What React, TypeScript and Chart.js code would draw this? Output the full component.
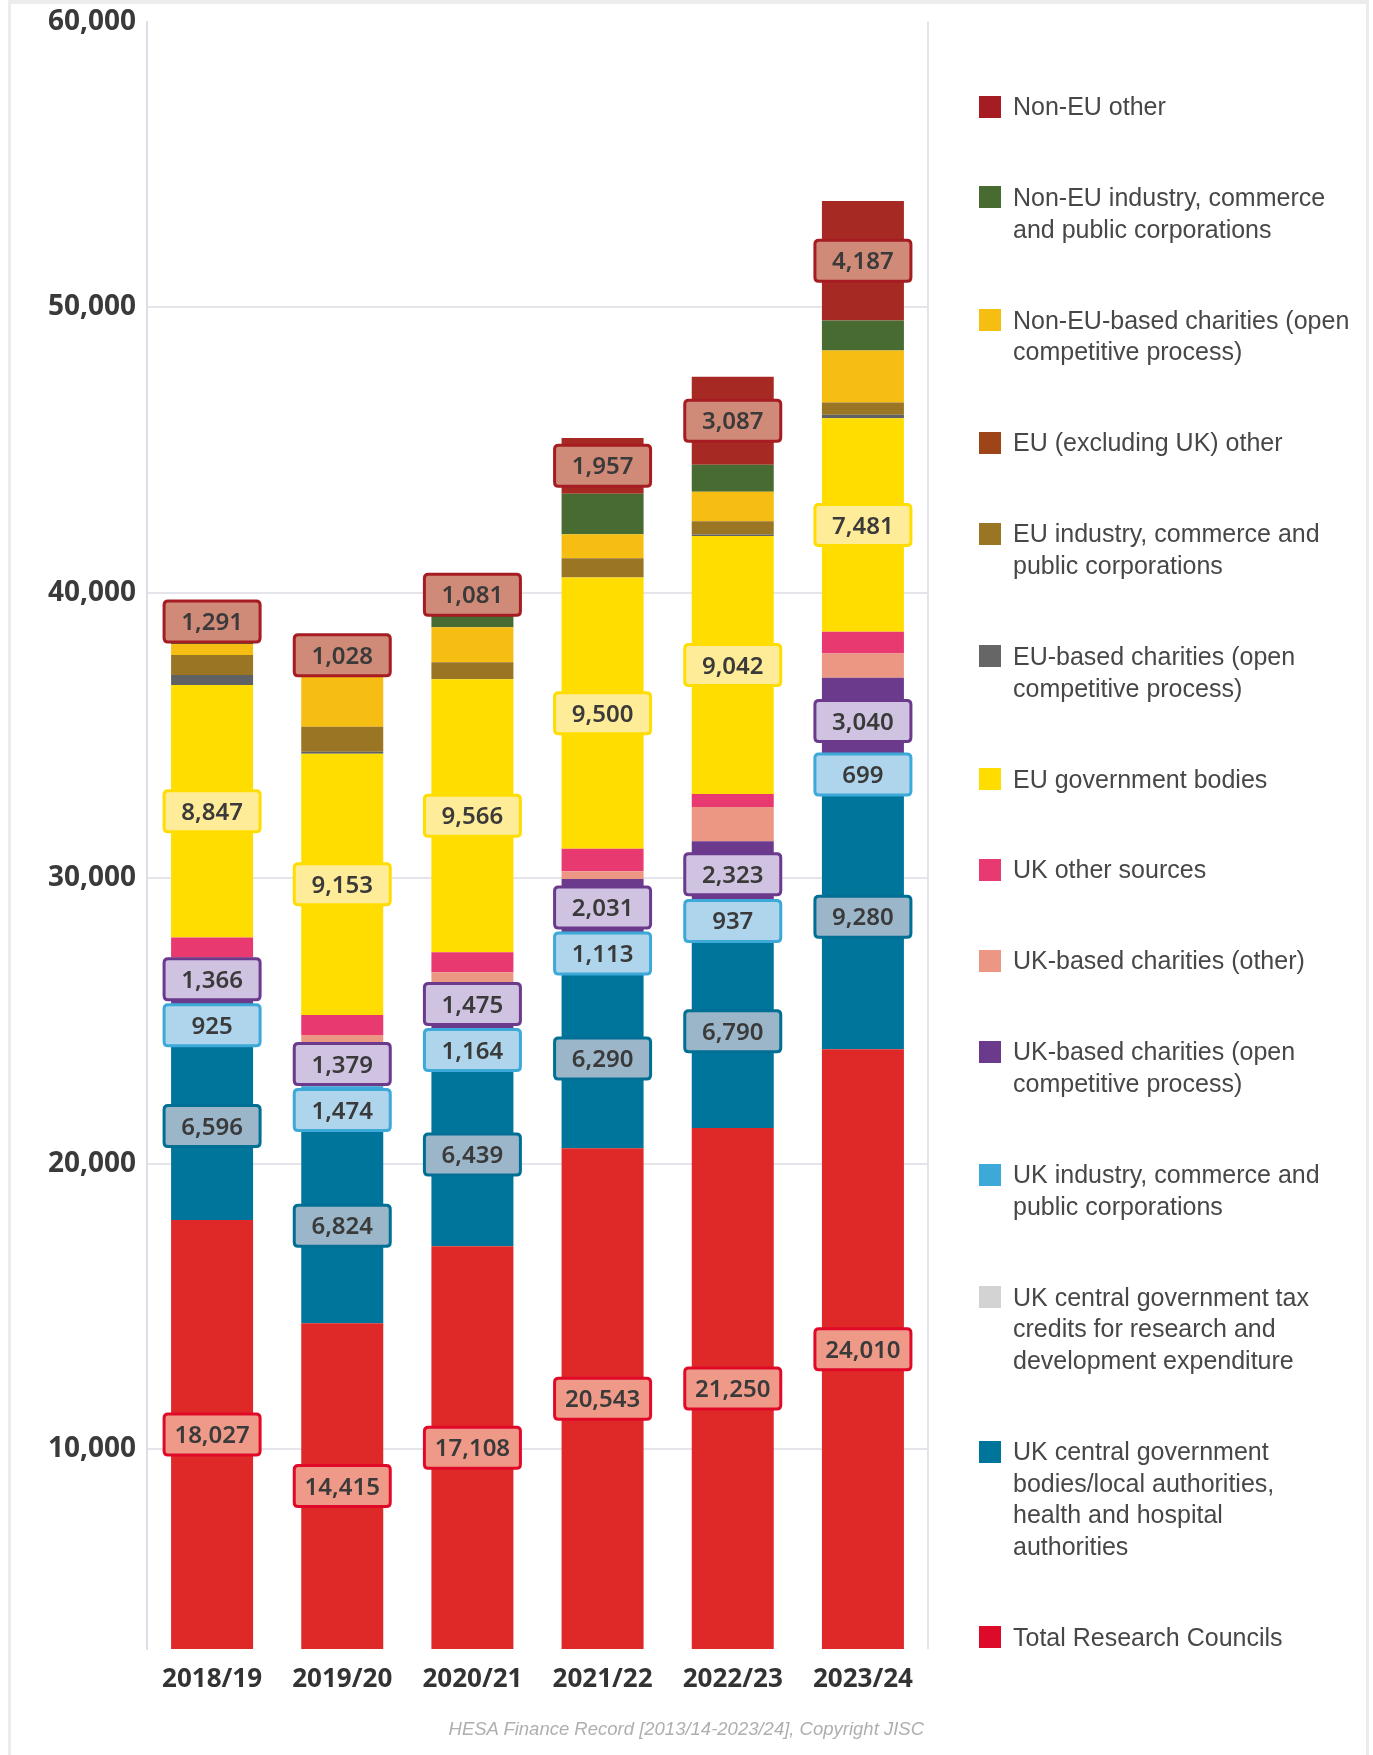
import React, { useEffect, useRef } from "react";
import { Chart, registerables } from "chart.js";

Chart.register(...registerables);

// ---------- data ----------
const categories = ["2018/19", "2019/20", "2020/21", "2021/22", "2022/23", "2023/24"];
const yTickValues = [10000, 20000, 30000, 40000, 50000, 60000];

// stack order: bottom -> top
const totalResearchCouncils = [18027, 14415, 17108, 20543, 21250, 24010];
const ukCentralGovBodies = [6596, 6824, 6439, 6290, 6790, 9280];
const ukTaxCredits = [0, 0, 0, 0, 0, 0];
const ukIndustry = [925, 1474, 1164, 1113, 937, 699];
const ukCharitiesOpen = [1366, 1379, 1475, 2031, 2323, 3040];
const ukCharitiesOther = [330, 420, 520, 270, 1200, 850];
const ukOtherSources = [680, 700, 700, 790, 450, 760];
const euGovernmentBodies = [8847, 9153, 9566, 9500, 9042, 7481];
const euCharities = [350, 70, 0, 0, 50, 120];
const euIndustry = [700, 875, 595, 680, 465, 430];
const euOther = [0, 0, 0, 0, 0, 0];
const nonEuCharities = [385, 1750, 1225, 835, 1035, 1825];
const nonEuIndustry = [150, 245, 605, 1420, 945, 1050];
const nonEuOther = [1291, 1028, 1081, 1957, 3087, 4187];

const seriesNames = [
  "Total Research Councils",
  "UK central government\nbodies/local authorities,\nhealth and hospital\nauthorities",
  "UK central government tax\ncredits for research and\ndevelopment expenditure",
  "UK industry, commerce and\npublic corporations",
  "UK-based charities (open\ncompetitive process)",
  "UK-based charities (other)",
  "UK other sources",
  "EU government bodies",
  "EU-based charities (open\ncompetitive process)",
  "EU industry, commerce and\npublic corporations",
  "EU (excluding UK) other",
  "Non-EU-based charities (open\ncompetitive process)",
  "Non-EU industry, commerce\nand public corporations",
  "Non-EU other",
];
const seriesValues = [
  totalResearchCouncils,
  ukCentralGovBodies,
  ukTaxCredits,
  ukIndustry,
  ukCharitiesOpen,
  ukCharitiesOther,
  ukOtherSources,
  euGovernmentBodies,
  euCharities,
  euIndustry,
  euOther,
  nonEuCharities,
  nonEuIndustry,
  nonEuOther,
];

// ---------- styles ----------
const seriesColors = [
  "#DF2929",
  "#00759C",
  "#D3D3D3",
  "#3DA9D8",
  "#6B3A8D",
  "#EC9684",
  "#E83A70",
  "#FFDD00",
  "#5F6163",
  "#9A7524",
  "#9E4419",
  "#F6BD13",
  "#486B32",
  "#A62A23",
];
const legendColors = [
  "#DE0A2A",
  "#00759C",
  "#D3D3D3",
  "#3DA9D8",
  "#6B3A8D",
  "#EC9684",
  "#E83A70",
  "#FFDD00",
  "#666666",
  "#9A7524",
  "#9E4419",
  "#F6BD13",
  "#486B32",
  "#A51C22",
];
// value-label box styles (only some series are labelled)
const labelStyles: ({ fill: string; border: string } | null)[] = [
  { fill: "#EF9A88", border: "#E00A28" },
  { fill: "#9BB5C9", border: "#006F94" },
  null,
  { fill: "#AFD5ED", border: "#3DA9D8" },
  { fill: "#D0C3E1", border: "#6B3A8D" },
  null,
  null,
  { fill: "#FFEC98", border: "#FFDD00" },
  null,
  null,
  null,
  null,
  null,
  { fill: "#D08A78", border: "#A51C22" },
];

const TICK_FONT = "'Noto Sans', 'DejaVu Sans', sans-serif";
const TEXT_FONT = "'Liberation Sans', Arial, sans-serif";

const fmt = (v: number) => Math.round(v).toLocaleString("en-US");

function roundRect(ctx: CanvasRenderingContext2D, x: number, y: number, w: number, h: number, r: number) {
  ctx.beginPath();
  ctx.moveTo(x + r, y);
  ctx.lineTo(x + w - r, y);
  ctx.quadraticCurveTo(x + w, y, x + w, y + r);
  ctx.lineTo(x + w, y + h - r);
  ctx.quadraticCurveTo(x + w, y + h, x + w - r, y + h);
  ctx.lineTo(x + r, y + h);
  ctx.quadraticCurveTo(x, y + h, x, y + h - r);
  ctx.lineTo(x, y + r);
  ctx.quadraticCurveTo(x, y, x + r, y);
  ctx.closePath();
}

const framePlugin = {
  id: "frameLines",
  beforeDatasetsDraw(chart: any) {
    const { ctx, chartArea } = chart;
    ctx.save();
    ctx.strokeStyle = "#e2e2e8";
    ctx.lineWidth = 2;
    ctx.beginPath();
    ctx.moveTo(chartArea.right, chartArea.top);
    ctx.lineTo(chartArea.right, chartArea.bottom);
    ctx.stroke();
    ctx.restore();
  },
};

const segLabelPlugin = {
  id: "segLabels",
  afterDatasetsDraw(chart: any) {
    const { ctx, chartArea } = chart;
    const boxW = 99;
    const boxH = 44;
    const minSep = 46;
    categories.forEach((_, i) => {
      const items: { x: number; y: number; v: number; st: { fill: string; border: string } }[] = [];
      chart.data.datasets.forEach((ds: any, di: number) => {
        const st = labelStyles[di];
        if (!st) return;
        const el: any = chart.getDatasetMeta(di).data[i];
        const v = ds.data[i] as number;
        if (!el || !v) return;
        const top = Math.max(Math.min(el.y, el.base), chartArea.top);
        const bot = Math.min(Math.max(el.y, el.base), chartArea.bottom);
        items.push({ x: el.x, y: (top + bot) / 2, v, st });
      });
      items.sort((a, b) => a.y - b.y);
      for (let iter = 0; iter < 30; iter++) {
        let moved = false;
        for (let k = 0; k < items.length - 1; k++) {
          const d = items[k + 1].y - items[k].y;
          if (d < minSep - 0.01) {
            const push = (minSep - d) / 2;
            items[k].y -= push;
            items[k + 1].y += push;
            moved = true;
          }
        }
        if (!moved) break;
      }
      items.forEach((it) => {
        ctx.save();
        const x0 = it.x - boxW / 2 + 1.5;
        const y0 = it.y - boxH / 2 + 1.5;
        roundRect(ctx, x0, y0, boxW - 3, boxH - 3, 4);
        ctx.fillStyle = it.st.fill;
        ctx.fill();
        ctx.lineWidth = 3;
        ctx.strokeStyle = it.st.border;
        ctx.stroke();
        ctx.fillStyle = "#3a3a3a";
        ctx.font = `600 24px ${TICK_FONT}`;
        ctx.textAlign = "center";
        ctx.textBaseline = "alphabetic";
        ctx.fillText(fmt(it.v), it.x, it.y + 8.6);
        ctx.restore();
      });
    });
  },
};

export default function App() {
  const canvasRef = useRef<HTMLCanvasElement | null>(null);

  useEffect(() => {
    if (!canvasRef.current) return;
    const chart = new Chart(canvasRef.current, {
      type: "bar",
      data: {
        labels: categories,
        datasets: seriesValues.map((vals, i) => ({
          label: seriesNames[i].replace(/\n/g, " "),
          data: vals,
          backgroundColor: seriesColors[i],
          borderWidth: 0,
          categoryPercentage: 1,
          barPercentage: 0.63,
        })),
      },
      options: {
        animation: false,
        responsive: false,
        maintainAspectRatio: false,
        devicePixelRatio: 1,
        layout: { padding: { top: 22, right: 445, left: 0, bottom: 0 } },
        plugins: {
          legend: { display: false },
          tooltip: { enabled: false },
          title: { display: false },
        },
        scales: {
          x: {
            stacked: true,
            afterFit: (s: any) => {
              s.height = 106;
              s.paddingLeft = 0;
              s.paddingRight = 0;
            },
            grid: { display: false, drawTicks: false },
            border: { display: false },
            ticks: {
              color: "#333333",
              padding: 15,
              font: { family: TICK_FONT, size: 26, weight: "bold" },
            },
          },
          y: {
            stacked: true,
            min: 3000,
            max: 60000,
            afterBuildTicks: (s: any) => {
              s.ticks = yTickValues.map((v) => ({ value: v }));
            },
            afterFit: (s: any) => {
              s.width = 147;
              s.paddingTop = 0;
              s.paddingBottom = 0;
            },
            grid: {
              color: (c: any) => (c.tick && c.tick.value === 60000 ? "rgba(0,0,0,0)" : "#e4e4ea"),
              lineWidth: 2,
              drawTicks: false,
            },
            border: { display: true, color: "#dedee6", width: 2 },
            ticks: {
              color: "#3a3a3a",
              padding: 11,
              font: { family: TICK_FONT, size: 28, weight: "bold" },
              callback: (v: any) => fmt(Number(v)),
            },
          },
        },
      },
      plugins: [framePlugin, segLabelPlugin],
    } as any);
    return () => chart.destroy();
  }, []);

  const legendOrder = seriesNames.map((_, i) => seriesNames.length - 1 - i);

  return (
    <div
      style={{
        position: "absolute",
        left: 0,
        top: 0,
        width: 1373,
        height: 1755,
        overflow: "hidden",
        background: "#ffffff",
      }}
    >
      <div
        style={{
          position: "absolute",
          left: 8,
          top: 0,
          width: 1361,
          height: 1800,
          borderStyle: "solid",
          borderColor: "#ececec",
          borderWidth: "4px 3px 3px 3px",
          boxSizing: "border-box",
        }}
      />
      <canvas
        ref={canvasRef}
        width={1373}
        height={1755}
        style={{ position: "absolute", left: 0, top: 0, width: 1373, height: 1755 }}
      />
      <div
        style={{
          position: "absolute",
          left: 979,
          top: 91,
          fontFamily: TEXT_FONT,
          fontSize: 25,
          lineHeight: "31.67px",
          color: "#474747",
        }}
      >
        {legendOrder.map((si) => (
          <div
            key={si}
            style={{ position: "relative", paddingLeft: 34, marginBottom: 59.3, whiteSpace: "pre" }}
          >
            <span
              style={{
                position: "absolute",
                left: 0,
                top: 4.5,
                width: 22,
                height: 22,
                background: legendColors[si],
              }}
            />
            {seriesNames[si]}
          </div>
        ))}
      </div>
      <div
        style={{
          position: "absolute",
          left: 0,
          top: 1718,
          width: 924,
          textAlign: "right",
          fontFamily: TEXT_FONT,
          fontStyle: "italic",
          fontSize: 18.5,
          lineHeight: "22px",
          color: "#afafaf",
        }}
      >
        HESA Finance Record [2013/14-2023/24], Copyright JISC
      </div>
    </div>
  );
}
